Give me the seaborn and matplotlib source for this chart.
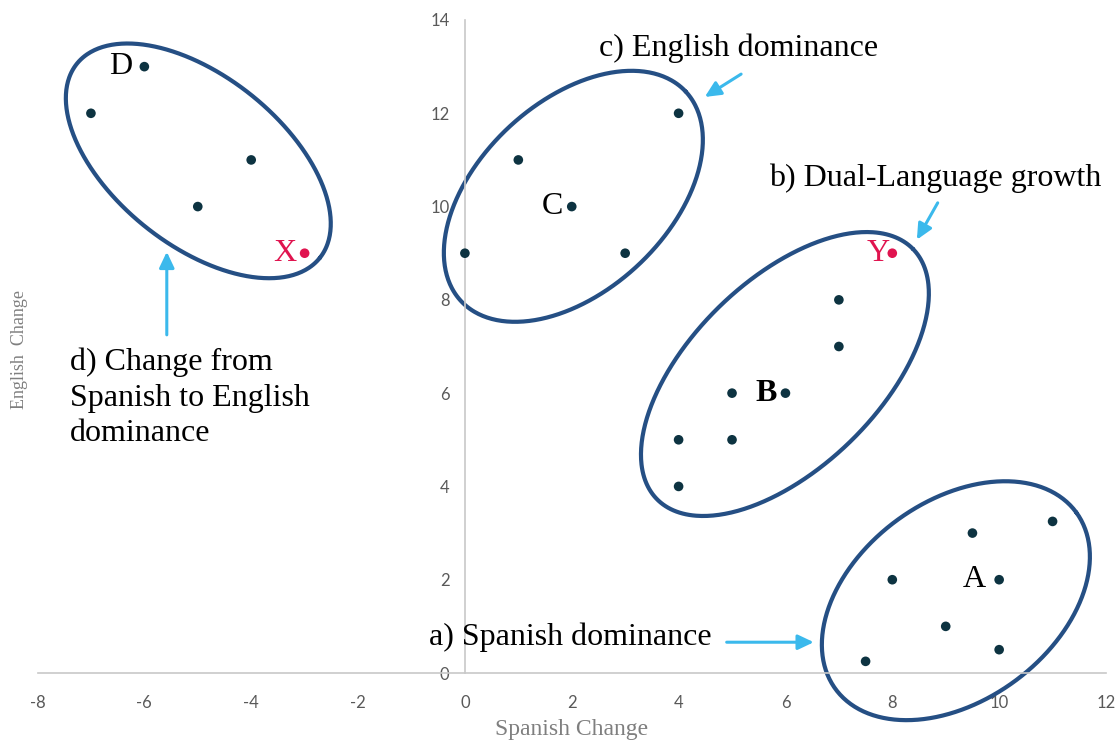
import numpy as np
import pandas as pd
import matplotlib
matplotlib.use("Agg")
import matplotlib.pyplot as plt
import seaborn as sns

# Data points for the four language groups
group_a_x = [7.5, 8, 9, 9.5, 10, 10, 11]
group_a_y = [0.25, 2, 1, 3, 2, 0.5, 3.25]
group_b_x = [4, 4, 5, 5, 6, 7, 7, 8]
group_b_y = [4, 5, 5, 6, 6, 7, 8, 9]
group_c_x = [0, 1, 2, 3, 4]
group_c_y = [9, 11, 10, 9, 12]
group_d_x = [-6, -7, -4, -5, -3]
group_d_y = [13, 12, 11, 10, 9]
highlight = [(-3, 9, "X"), (8, 9, "Y")]

x_ticks = list(range(-8, 13, 2))
y_ticks = list(range(0, 15, 2))

df = pd.DataFrame({
    "spanish": group_a_x + group_b_x + group_c_x + group_d_x,
    "english": group_a_y + group_b_y + group_c_y + group_d_y,
})
df["kind"] = ["highlight" if (x, y) in [(h[0], h[1]) for h in highlight] else "normal"
              for x, y in zip(df["spanish"], df["english"])]

sns.set_style("white")
plt.rcParams["font.family"] = ["Liberation Serif", "DejaVu Serif"]
plt.rcParams["axes.unicode_minus"] = False

W, H = 1120, 744
fig = plt.figure(figsize=(W / 100, H / 100), dpi=100)
ax = fig.add_axes([37.5 / W, 71 / H, 1068.5 / W, 653 / H])

sns.scatterplot(data=df, x="spanish", y="english", hue="kind",
                palette={"normal": "#0d3341", "highlight": "#e0144f"},
                s=48, edgecolor="none", legend=False, ax=ax, zorder=3)

ax.set_xlim(-8, 12)
ax.set_ylim(0, 14)
ax.set_xticks(x_ticks)
ax.set_yticks(y_ticks)
for side in ["top", "right"]:
    ax.spines[side].set_visible(False)
ax.spines["left"].set_position(("data", 0))
for side in ["left", "bottom"]:
    ax.spines[side].set_color("#c8c8c8")
    ax.spines[side].set_linewidth(1.2)
ax.tick_params(axis="both", length=0, labelsize=12, labelcolor="#595959")
ax.tick_params(axis="y", pad=11)
ax.tick_params(axis="x", pad=16)
for lab in ax.get_xticklabels() + ax.get_yticklabels():
    lab.set_fontfamily("Lato")

ax.set_xlabel("Spanish Change", fontsize=17, color="#7f7f7f")
ax.xaxis.set_label_coords(0.5, -0.071)
ax.set_ylabel("English  Change", fontsize=13, color="#7f7f7f", va="center")
ax.yaxis.set_label_coords(-0.0165, 0.495)

# Ellipses around groups: centre (data), semi-axes in pixels, angle in degrees
px_x = 1068.5 / 20
px_y = 653 / 14
ellipses = [
    (-4.99, 10.98, 155.5, 84.5, -38.6),
    (2.03, 10.22, 153.6, 94.5, 43.0),
    (5.99, 6.41, 179.0, 94.0, 44.3),
    (9.19, 1.55, 149.3, 99.7, 36.3),
]
t = np.linspace(0, 2 * np.pi, 400)
for cx, cy, a, b, ang in ellipses:
    th = np.deg2rad(ang)
    ex = cx + (a * np.cos(t) * np.cos(th) - b * np.sin(t) * np.sin(th)) / px_x
    ey = cy + (a * np.cos(t) * np.sin(th) + b * np.sin(t) * np.cos(th)) / px_y
    ax.plot(ex, ey, color="#254f84", lw=3, zorder=2, clip_on=False)

# Letter labels next to points
point_labels = [(-6, 13, "D", "black", "normal", -17),
                (2, 10, "C", "black", "normal", -14),
                (6, 6, "B", "black", "bold", -14),
                (10, 2, "A", "black", "normal", -18)]
for x, y, txt, col, wt, off in point_labels:
    ax.annotate(txt, (x, y), xytext=(off, 0), textcoords="offset points",
                ha="center", va="center", fontsize=23, color=col, fontweight=wt)
for (x, y, txt), off in zip(highlight, [-14, -10]):
    ax.annotate(txt, (x, y), xytext=(off, 0), textcoords="offset points",
                ha="center", va="center", fontsize=23, color="#e0144f")

# Category annotations with arrows
arrow_col = "#3bb9ec"
notes = [
    ("a) Spanish dominance", -0.67, 0.77, (4.90, 0.66), (6.53, 0.66)),
    ("b) Dual-Language growth", 5.69, 10.61, (8.85, 10.08), (8.46, 9.29)),
    ("c) English dominance", 2.51, 13.40, (5.17, 12.84), (4.49, 12.35)),
    ("d) Change from\nSpanish to English\ndominance", -7.39, 5.90, (-5.58, 7.25), (-5.58, 9.03)),
]
for txt, tx, ty, tail, head in notes:
    ax.text(tx, ty, txt, fontsize=23, ha="left", va="center", linespacing=1.3,
            color="black")
    ax.annotate("", xy=head, xytext=tail,
                arrowprops=dict(arrowstyle="-|>,head_length=0.95,head_width=0.45",
                                color=arrow_col, lw=2.2, shrinkA=0, shrinkB=0,
                                mutation_scale=10))

fig.savefig("out.png", dpi=100)
